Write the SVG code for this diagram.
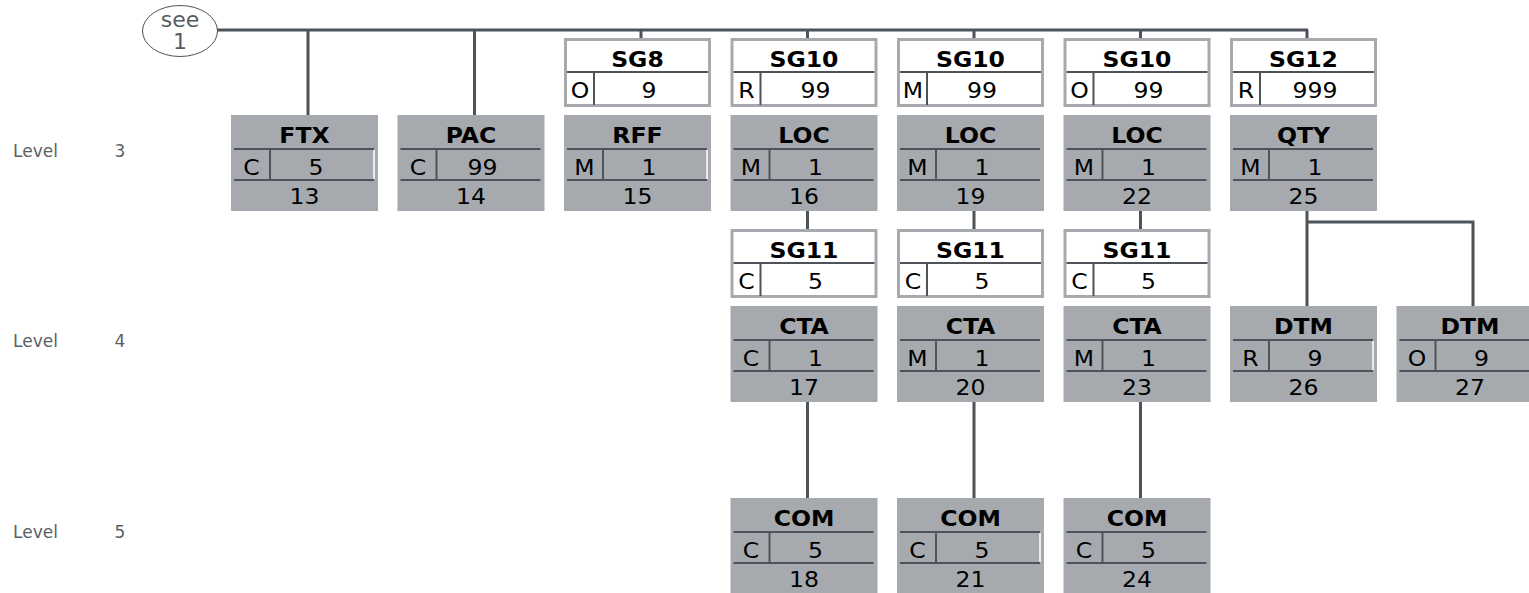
<svg xmlns="http://www.w3.org/2000/svg" width="1529" height="593" viewBox="0 0 1529 593">
<style>
.seg{fill:#a6aaaf}
.sgb{fill:#ffffff;stroke:#a6aaaf;stroke-width:3}
.ln{stroke:#4d5358;stroke-width:2;fill:none}
.wl{stroke:#ffffff;stroke-width:1.5;fill:none}
.con{stroke:#4d5358;stroke-width:3;fill:none}
.t{font-family:"DejaVu Sans",Verdana,sans-serif;font-size:22px;fill:#000;text-anchor:middle;transform-box:fill-box;transform-origin:center;transform:scaleX(1.07)}
.b{font-weight:bold}
.lv{font-family:"DejaVu Sans",Verdana,sans-serif;font-size:17px;fill:#5a6166}
.el{font-family:"DejaVu Sans",Verdana,sans-serif;font-size:22px;fill:#555c61;text-anchor:middle}
</style>
<rect width="1529" height="593" fill="#ffffff"/>
<g id="connectors">
<path class="con" d="M217 30H1308"/>
<path class="con" d="M308 30V115M474.5 30V115M641 30V38M807.5 30V38M974 30V38M1140.5 30V38M1307 30V38"/>
<path class="con" d="M807.5 211V229M974 211V229M1140.5 211V229"/>
<path class="con" d="M807.5 402V498M974 402V498M1140.5 402V498"/>
<path class="con" d="M1307 211V306M1307 222H1473V306"/>
</g>
<g id="see1">
<ellipse cx="180" cy="31" rx="37.5" ry="25.5" fill="#fff" stroke="#4d5358" stroke-width="1"/>
<text class="el" x="180" y="27">see</text>
<text class="el" x="180" y="49">1</text>
</g>
<g id="levels">
<text class="lv" x="13" y="157">Level</text><text class="lv" x="120" y="157" text-anchor="middle">3</text>
<text class="lv" x="13" y="347">Level</text><text class="lv" x="120" y="347" text-anchor="middle">4</text>
<text class="lv" x="13" y="538">Level</text><text class="lv" x="120" y="538" text-anchor="middle">5</text>
</g>
<defs>
<g id="segshape">
<rect class="seg" x="0" y="0" width="147" height="96"/>
<path class="ln" d="M3 34H143M3 65H143M39 34V65"/>
</g>
<g id="sgshape">
<rect class="sgb" x="1.5" y="1.5" width="144" height="66"/>
<path class="ln" d="M3 34H144M30 34V67"/>
</g>
</defs>
<g id="FTX" transform="translate(231,115)"><use href="#segshape"/><path class="wl" d="M143 35V64"/><text class="t b" x="73.5" y="28">FTX</text><text class="t" x="20.5" y="60">C</text><text class="t" x="85" y="60">5</text><text class="t" x="73.5" y="89">13</text></g>
<g id="PAC" transform="translate(397.5,115)"><use href="#segshape"/><text class="t b" x="73.5" y="28">PAC</text><text class="t" x="20.5" y="60">C</text><text class="t" x="85" y="60">99</text><text class="t" x="73.5" y="89">14</text></g>
<g id="SG8" transform="translate(564,38)"><use href="#sgshape"/><text class="t b" x="73.5" y="29">SG8</text><text class="t" x="16" y="60">O</text><text class="t" x="85" y="60">9</text></g>
<g id="RFF" transform="translate(564,115)"><use href="#segshape"/><path class="wl" d="M143 35V64"/><text class="t b" x="73.5" y="28">RFF</text><text class="t" x="20.5" y="60">M</text><text class="t" x="85" y="60">1</text><text class="t" x="73.5" y="89">15</text></g>
<g id="SG10a" transform="translate(730.5,38)"><use href="#sgshape"/><text class="t b" x="73.5" y="29">SG10</text><text class="t" x="16" y="60">R</text><text class="t" x="85" y="60">99</text></g>
<g id="LOCa" transform="translate(730.5,115)"><use href="#segshape"/><text class="t b" x="73.5" y="28">LOC</text><text class="t" x="20.5" y="60">M</text><text class="t" x="85" y="60">1</text><text class="t" x="73.5" y="89">16</text></g>
<g id="SG11a" transform="translate(730.5,229)"><use href="#sgshape"/><text class="t b" x="73.5" y="29">SG11</text><text class="t" x="16" y="60">C</text><text class="t" x="85" y="60">5</text></g>
<g id="CTAa" transform="translate(730.5,306)"><use href="#segshape"/><text class="t b" x="73.5" y="28">CTA</text><text class="t" x="20.5" y="60">C</text><text class="t" x="85" y="60">1</text><text class="t" x="73.5" y="89">17</text></g>
<g id="COMa" transform="translate(730.5,498)"><use href="#segshape"/><text class="t b" x="73.5" y="28">COM</text><text class="t" x="20.5" y="60">C</text><text class="t" x="85" y="60">5</text><text class="t" x="73.5" y="89">18</text></g>
<g id="SG10b" transform="translate(897,38)"><use href="#sgshape"/><text class="t b" x="73.5" y="29">SG10</text><text class="t" x="16" y="60">M</text><text class="t" x="85" y="60">99</text></g>
<g id="LOCb" transform="translate(897,115)"><use href="#segshape"/><text class="t b" x="73.5" y="28">LOC</text><text class="t" x="20.5" y="60">M</text><text class="t" x="85" y="60">1</text><text class="t" x="73.5" y="89">19</text></g>
<g id="SG11b" transform="translate(897,229)"><use href="#sgshape"/><text class="t b" x="73.5" y="29">SG11</text><text class="t" x="16" y="60">C</text><text class="t" x="85" y="60">5</text></g>
<g id="CTAb" transform="translate(897,306)"><use href="#segshape"/><text class="t b" x="73.5" y="28">CTA</text><text class="t" x="20.5" y="60">M</text><text class="t" x="85" y="60">1</text><text class="t" x="73.5" y="89">20</text></g>
<g id="COMb" transform="translate(897,498)"><use href="#segshape"/><path class="wl" d="M143 35V64"/><text class="t b" x="73.5" y="28">COM</text><text class="t" x="20.5" y="60">C</text><text class="t" x="85" y="60">5</text><text class="t" x="73.5" y="89">21</text></g>
<g id="SG10c" transform="translate(1063.5,38)"><use href="#sgshape"/><text class="t b" x="73.5" y="29">SG10</text><text class="t" x="16" y="60">O</text><text class="t" x="85" y="60">99</text></g>
<g id="LOCc" transform="translate(1063.5,115)"><use href="#segshape"/><text class="t b" x="73.5" y="28">LOC</text><text class="t" x="20.5" y="60">M</text><text class="t" x="85" y="60">1</text><text class="t" x="73.5" y="89">22</text></g>
<g id="SG11c" transform="translate(1063.5,229)"><use href="#sgshape"/><text class="t b" x="73.5" y="29">SG11</text><text class="t" x="16" y="60">C</text><text class="t" x="85" y="60">5</text></g>
<g id="CTAc" transform="translate(1063.5,306)"><use href="#segshape"/><text class="t b" x="73.5" y="28">CTA</text><text class="t" x="20.5" y="60">M</text><text class="t" x="85" y="60">1</text><text class="t" x="73.5" y="89">23</text></g>
<g id="COMc" transform="translate(1063.5,498)"><use href="#segshape"/><text class="t b" x="73.5" y="28">COM</text><text class="t" x="20.5" y="60">C</text><text class="t" x="85" y="60">5</text><text class="t" x="73.5" y="89">24</text></g>
<g id="SG12" transform="translate(1230,38)"><use href="#sgshape"/><text class="t b" x="73.5" y="29">SG12</text><text class="t" x="16" y="60">R</text><text class="t" x="85" y="60">999</text></g>
<g id="QTY" transform="translate(1230,115)"><use href="#segshape"/><text class="t b" x="73.5" y="28">QTY</text><text class="t" x="20.5" y="60">M</text><text class="t" x="85" y="60">1</text><text class="t" x="73.5" y="89">25</text></g>
<g id="DTMa" transform="translate(1230,306)"><use href="#segshape"/><path class="wl" d="M143 35V64"/><text class="t b" x="73.5" y="28">DTM</text><text class="t" x="20.5" y="60">R</text><text class="t" x="85" y="60">9</text><text class="t" x="73.5" y="89">26</text></g>
<g id="DTMb" transform="translate(1396.5,306)"><use href="#segshape"/><text class="t b" x="73.5" y="28">DTM</text><text class="t" x="20.5" y="60">O</text><text class="t" x="85" y="60">9</text><text class="t" x="73.5" y="89">27</text></g>
</svg>
